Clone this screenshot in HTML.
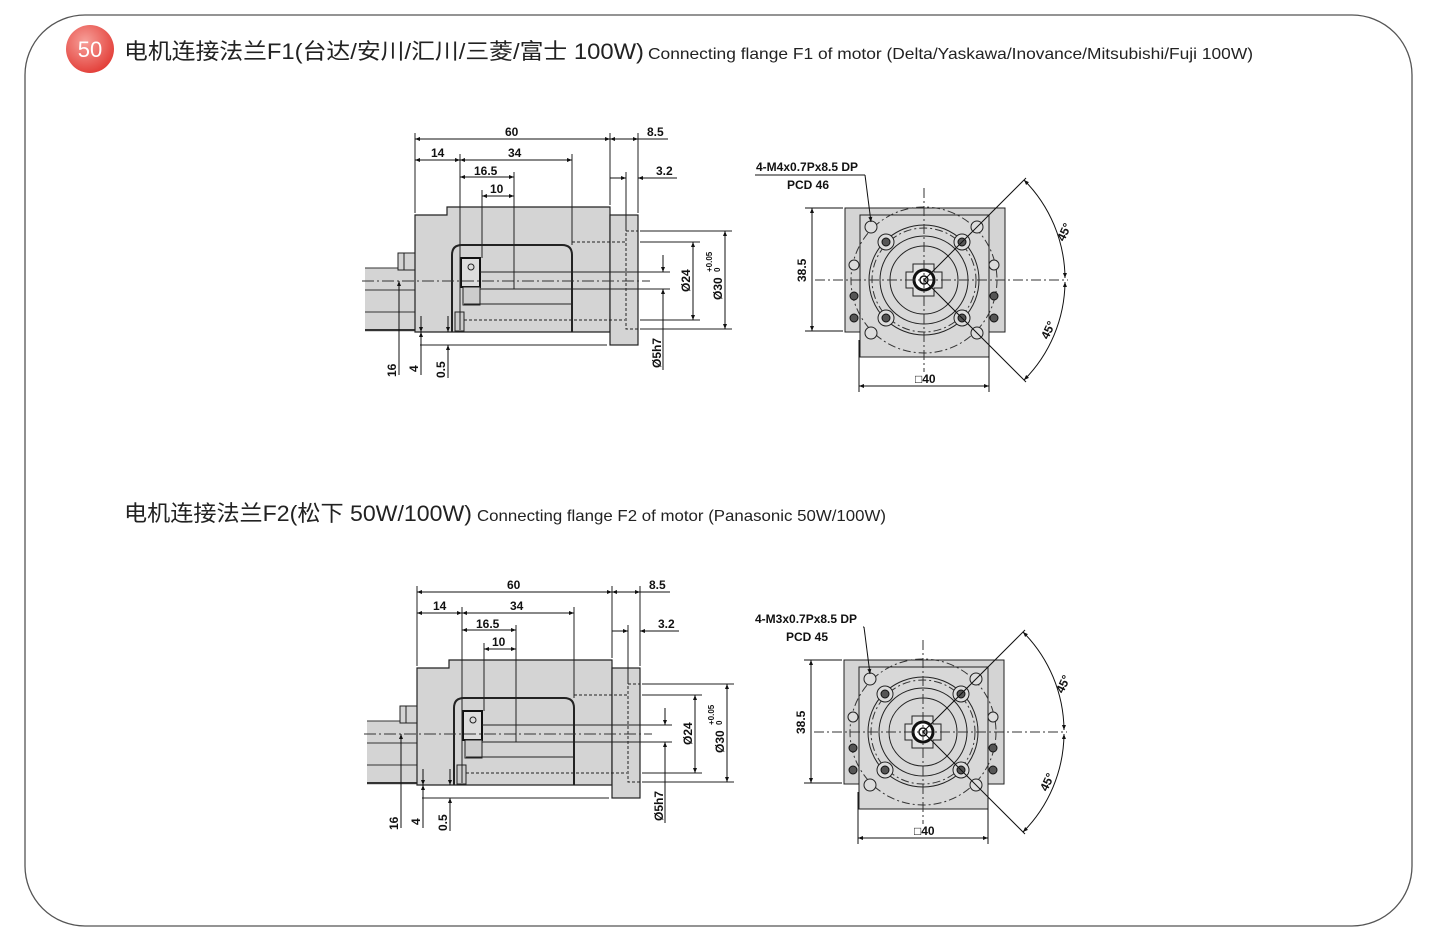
<!DOCTYPE html>
<html><head><meta charset="utf-8"><style>
html,body{margin:0;padding:0;background:#fff;}
svg{display:block;}
text{font-family:"Liberation Sans","Noto Sans CJK SC",sans-serif;}
.d{font-family:"Liberation Sans Narrow","Liberation Sans",sans-serif;font-weight:bold;font-size:12px;fill:#111;}
</style></head><body>
<svg width="1440" height="936" viewBox="0 0 1440 936" xmlns="http://www.w3.org/2000/svg">
<defs>
<radialGradient id="rg" cx="0.4" cy="0.35" r="0.7"><stop offset="0" stop-color="#f7a09a"/><stop offset="1" stop-color="#e23b35"/></radialGradient>
<marker id="a" viewBox="0 0 10 10" refX="10" refY="5" markerWidth="7" markerHeight="5" orient="auto-start-reverse"><path d="M0,1 L10,5 L0,9z" fill="#111"/></marker>
<g id="side">
 <!-- motor left -->
 <rect x="365" y="268" width="50" height="64" fill="#d4d4d4"/>
 <line x1="365" y1="268" x2="415" y2="268" stroke="#333" stroke-width="1"/>
 <line x1="365" y1="290" x2="415" y2="290" stroke="#333" stroke-width="1"/>
 <line x1="365" y1="312" x2="415" y2="312" stroke="#333" stroke-width="1"/>
 <line x1="365" y1="330" x2="415" y2="330" stroke="#333" stroke-width="2"/>
 <rect x="398" y="253" width="17" height="17" fill="#d4d4d4" stroke="#222"/>
 <line x1="404" y1="253" x2="404" y2="270" stroke="#222"/>
 <!-- body -->
 <path d="M415,215 L447,215 L447,207 L610,207 L610,332 L415,332Z" fill="#d4d4d4" stroke="#222" stroke-width="1.2"/>
 <rect x="610" y="215" width="28" height="130" fill="#d4d4d4" stroke="#222" stroke-width="1.2"/>
 <rect x="626" y="231" width="12" height="98" fill="none" stroke="#222" stroke-dasharray="3,2"/>
 <path d="M452,332 L452,255 Q452,245 462,245 L562,245 Q572,245 572,255 L572,332" fill="none" stroke="#222" stroke-width="2"/>
 <rect x="461" y="258" width="19" height="29" fill="#ddd" stroke="#111" stroke-width="2"/>
 <circle cx="471" cy="267" r="3" fill="none" stroke="#222"/>
 <rect x="463" y="287" width="17" height="18" fill="#ccc" stroke="#222"/>
 <rect x="455" y="312" width="9" height="19" fill="#ccc" stroke="#222"/>
 <line x1="480" y1="272" x2="670" y2="272" stroke="#222"/>
 <line x1="480" y1="289" x2="670" y2="289" stroke="#222"/>
 <line x1="514" y1="272" x2="514" y2="289" stroke="#222"/>
 <line x1="464" y1="304" x2="572" y2="304" stroke="#222"/>
 <line x1="464" y1="320" x2="625" y2="320" stroke="#222" stroke-dasharray="3,2"/>
 <line x1="572" y1="242" x2="625" y2="242" stroke="#222" stroke-dasharray="3,2"/>
 <line x1="362" y1="281" x2="650" y2="281" stroke="#333" stroke-dasharray="12,3,2,3"/>
 <!-- ext lines -->
 <g stroke="#222" stroke-width="1">
 <line x1="415" y1="133" x2="415" y2="213"/>
 <line x1="610" y1="133" x2="610" y2="205"/>
 <line x1="638" y1="133" x2="638" y2="213"/>
 <line x1="460" y1="154" x2="460" y2="330"/>
 <line x1="572" y1="154" x2="572" y2="245"/>
 <line x1="514" y1="172" x2="514" y2="289"/>
 <line x1="482" y1="190" x2="482" y2="258"/>
 <line x1="626" y1="172" x2="626" y2="231"/>
 <line x1="640" y1="231" x2="732" y2="231"/>
 <line x1="640" y1="242" x2="700" y2="242"/>
 <line x1="640" y1="320" x2="700" y2="320"/>
 <line x1="640" y1="329" x2="732" y2="329"/>
 <line x1="420" y1="345" x2="607" y2="345"/>
 </g>
 <g stroke="#111" stroke-width="1" marker-start="url(#a)" marker-end="url(#a)">
 <line x1="415" y1="139" x2="610" y2="139"/>
 <line x1="415" y1="160" x2="460" y2="160"/>
 <line x1="460" y1="160" x2="572" y2="160"/>
 <line x1="460" y1="177" x2="514" y2="177"/>
 <line x1="482" y1="196" x2="514" y2="196"/>
 <line x1="693" y1="242" x2="693" y2="320"/>
 <line x1="725" y1="231" x2="725" y2="329"/>
 </g>
 <g stroke="#111" stroke-width="1">
 <line x1="610" y1="139" x2="668" y2="139" marker-start="url(#a)"/>
 <line x1="617" y1="139" x2="638" y2="139" marker-end="url(#a)"/>
 <line x1="610" y1="178" x2="626" y2="178" marker-end="url(#a)"/>
 <line x1="638" y1="178" x2="677" y2="178" marker-start="url(#a)"/>
 <line x1="663" y1="255" x2="663" y2="272" marker-end="url(#a)"/>
 <line x1="663" y1="305" x2="663" y2="289" marker-end="url(#a)"/>
 <line x1="663" y1="305" x2="663" y2="370"/>
 <line x1="399" y1="375" x2="399" y2="281" marker-end="url(#a)"/>
 <line x1="421" y1="375" x2="421" y2="320"/>
 <line x1="421" y1="345" x2="421" y2="332" marker-end="url(#a)"/>
 <line x1="421" y1="316" x2="421" y2="332" marker-end="url(#a)"/>
 <line x1="448" y1="378" x2="448" y2="345" marker-end="url(#a)"/>
 <line x1="448" y1="316" x2="448" y2="332" marker-end="url(#a)"/>
 </g>
 <text class="d" x="505" y="136">60</text>
 <text class="d" x="647" y="136">8.5</text>
 <text class="d" x="431" y="157">14</text>
 <text class="d" x="508" y="157">34</text>
 <text class="d" x="474" y="175">16.5</text>
 <text class="d" x="490" y="193">10</text>
 <text class="d" x="656" y="175">3.2</text>
 <text class="d" transform="translate(690,292) rotate(-90)">Ø24</text>
 <text class="d" transform="translate(722,300) rotate(-90)">Ø30</text>
 <text class="d" style="font-size:8px" transform="translate(712,272) rotate(-90)">+0.05</text>
 <text class="d" style="font-size:8px" transform="translate(720,272) rotate(-90)">0</text>
 <text class="d" transform="translate(661,368) rotate(-90)">Ø5h7</text>
 <text class="d" transform="translate(396,377) rotate(-90)">16</text>
 <text class="d" transform="translate(418,372) rotate(-90)">4</text>
 <text class="d" transform="translate(445,378) rotate(-90)">0.5</text>
</g>
<g id="front">
 <rect x="845" y="208" width="160" height="124" fill="#d4d4d4" stroke="#222"/>
 <rect x="860" y="215" width="129" height="142" fill="#d8d8d8" stroke="#222"/>
 <circle cx="924" cy="280" r="73" fill="none" stroke="#333" stroke-dasharray="8,3,2,3"/>
 <circle cx="924" cy="280" r="55" fill="none" stroke="#222"/>
 <circle cx="924" cy="280" r="52" fill="none" stroke="#333" stroke-dasharray="8,3,2,3"/>
 <circle cx="924" cy="280" r="44" fill="none" stroke="#222"/>
 <circle cx="924" cy="280" r="34" fill="none" stroke="#222"/>
 <path d="M906,272 L913,272 L913,264 L934,264 L934,272 L942,272 L942,288 L934,288 L934,296 L913,296 L913,288 L906,288Z" fill="#e0e0e0" stroke="#222"/>
 <circle cx="924" cy="280" r="10" fill="#fff" stroke="#111" stroke-width="3"/>
 <circle cx="924" cy="280" r="4" fill="none" stroke="#111" stroke-width="1.5"/>
 <line x1="924" y1="188" x2="924" y2="372" stroke="#333" stroke-dasharray="10,3,2,3"/>
 <line x1="815" y1="280" x2="1068" y2="280" stroke="#333" stroke-dasharray="10,3,2,3"/>
 <g fill="#ddd" stroke="#222">
 <circle cx="871" cy="227" r="6"/><circle cx="977" cy="227" r="6"/>
 <circle cx="871" cy="333" r="6"/><circle cx="977" cy="333" r="6"/>
 <circle cx="886" cy="242" r="8"/><circle cx="962" cy="242" r="8"/>
 <circle cx="886" cy="318" r="8"/><circle cx="962" cy="318" r="8"/>
 <circle cx="854" cy="265" r="5"/><circle cx="994" cy="265" r="5"/>
 </g>
 <g fill="#555" stroke="#111">
 <circle cx="886" cy="242" r="4"/><circle cx="962" cy="242" r="4"/>
 <circle cx="886" cy="318" r="4"/><circle cx="962" cy="318" r="4"/>
 <circle cx="854" cy="296" r="4"/><circle cx="994" cy="296" r="4"/>
 <circle cx="854" cy="318" r="4"/><circle cx="994" cy="318" r="4"/>
 </g>
 <line x1="755" y1="175" x2="865" y2="175" stroke="#111"/>
 <line x1="865" y1="175" x2="871" y2="222" stroke="#111" marker-end="url(#a)"/>
 <line x1="924" y1="280" x2="1026" y2="178" stroke="#111"/>
 <line x1="924" y1="280" x2="1026" y2="382" stroke="#111"/>
 <path d="M1024,180 A141,141 0 0 1 1065,278" fill="none" stroke="#111" marker-start="url(#a)" marker-end="url(#a)"/>
 <path d="M1065,282 A141,141 0 0 1 1024,380" fill="none" stroke="#111" marker-start="url(#a)" marker-end="url(#a)"/>
 <g stroke="#111">
 <line x1="805" y1="208" x2="843" y2="208"/><line x1="805" y1="331" x2="843" y2="331"/>
 <line x1="812" y1="208" x2="812" y2="331" marker-start="url(#a)" marker-end="url(#a)"/>
 <line x1="859" y1="340" x2="859" y2="392"/><line x1="989" y1="345" x2="989" y2="392"/>
 <line x1="859" y1="386" x2="989" y2="386" marker-start="url(#a)" marker-end="url(#a)"/>
 </g>
 <text class="d" x="756" y="171">4-M4x0.7Px8.5 DP</text>
 <text class="d" x="787" y="189">PCD 46</text>
 <text class="d" transform="translate(806,282) rotate(-90)">38.5</text>
 <text class="d" x="915" y="383">□40</text>
 <text class="d" transform="translate(1064,242) rotate(-65)">45°</text>
 <text class="d" transform="translate(1048,340) rotate(-65)">45°</text>
</g>
</defs>
<rect x="25" y="15" width="1387" height="911" rx="60" fill="none" stroke="#555" stroke-width="1.3"/>
<circle cx="90" cy="49" r="24" fill="url(#rg)"/>
<text x="90" y="57" text-anchor="middle" font-size="22" fill="#fff">50</text>
<text x="124" y="59" font-size="22" fill="#222" textLength="520" lengthAdjust="spacingAndGlyphs">电机连接法兰F1(台达/安川/汇川/三菱/富士  100W)</text>
<text x="648" y="59" font-size="16" fill="#222" textLength="605" lengthAdjust="spacingAndGlyphs">Connecting flange F1 of motor  (Delta/Yaskawa/Inovance/Mitsubishi/Fuji 100W)</text>
<text x="124" y="521" font-size="22" fill="#222" textLength="348" lengthAdjust="spacingAndGlyphs">电机连接法兰F2(松下 50W/100W)</text>
<text x="477" y="521" font-size="16" fill="#222" textLength="409" lengthAdjust="spacingAndGlyphs">Connecting flange F2 of motor (Panasonic  50W/100W)</text>
<use href="#side"/>
<use href="#front"/>
<g transform="translate(2,453)"><use href="#side"/></g>
<g transform="translate(-1,452)">
 <rect x="750" y="160" width="120" height="36" fill="#fff"/>
 <use href="#front"/>
 <rect x="752" y="158" width="112" height="36" fill="#fff"/>
 <text class="d" x="756" y="171">4-M3x0.7Px8.5 DP</text>
 <text class="d" x="787" y="189">PCD 45</text>
</g>
</svg>
</body></html>
